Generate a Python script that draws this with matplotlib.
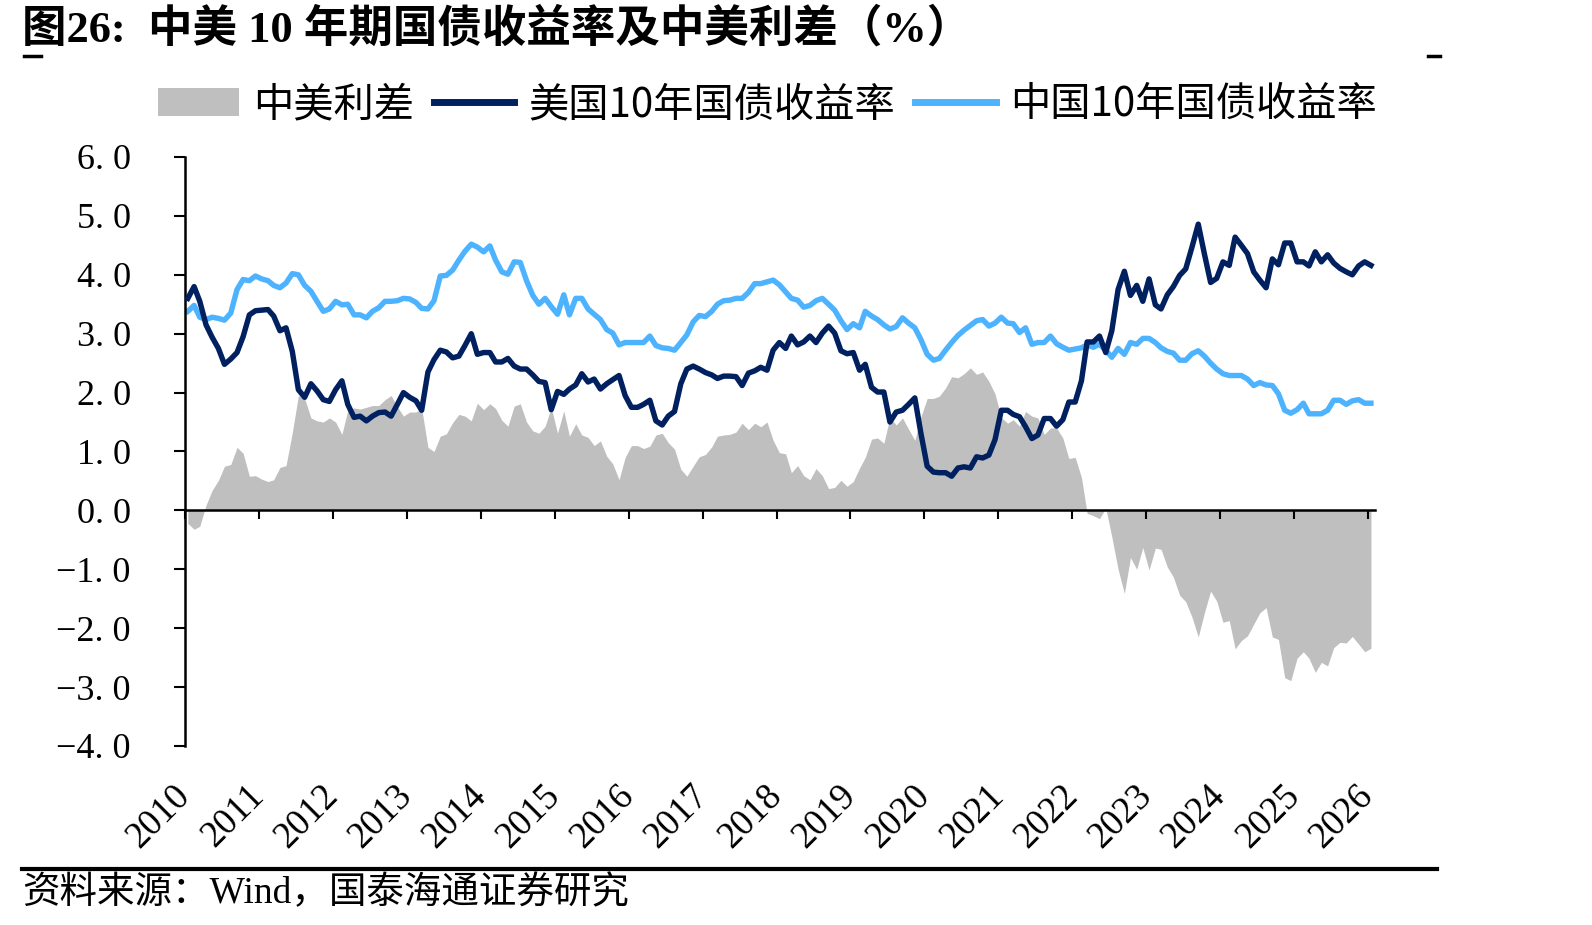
import numpy as np
import pandas as pd
import matplotlib
matplotlib.use("Agg")
import matplotlib.pyplot as plt
from matplotlib.lines import Line2D
from matplotlib.patches import Patch

plt.rcParams['font.family'] = ['Liberation Serif', 'Noto Sans CJK SC']
plt.rcParams['axes.unicode_minus'] = True

# 月度数据 2010-01 ~ 2026-01
us_10y = [
    3.60, 3.80, 3.55, 3.15, 2.94, 2.75, 2.48, 2.57, 2.68, 2.95, 3.32, 3.39,  # 2010
    3.40, 3.41, 3.30, 3.05, 3.10, 2.70, 2.05, 1.92, 2.15, 2.03, 1.88, 1.85,  # 2011
    2.05, 2.20, 1.80, 1.58, 1.60, 1.52, 1.60, 1.66, 1.67, 1.60, 1.80, 2.00,  # 2012
    1.92, 1.86, 1.70, 2.35, 2.56, 2.72, 2.69, 2.59, 2.62, 2.80, 3.00, 2.65,  # 2013
    2.68, 2.68, 2.52, 2.52, 2.58, 2.45, 2.40, 2.40, 2.30, 2.19, 2.17, 1.71,  # 2014
    2.02, 1.97, 2.06, 2.13, 2.32, 2.18, 2.23, 2.06, 2.15, 2.22, 2.29, 1.95,  # 2015
    1.75, 1.75, 1.80, 1.87, 1.52, 1.45, 1.60, 1.68, 2.15, 2.40, 2.45, 2.40,  # 2016
    2.34, 2.30, 2.24, 2.28, 2.28, 2.27, 2.12, 2.33, 2.37, 2.43, 2.38, 2.72,  # 2017
    2.85, 2.75, 2.96, 2.81, 2.86, 2.96, 2.85, 3.01, 3.13, 3.01, 2.71, 2.66,  # 2018
    2.68, 2.38, 2.48, 2.09, 2.01, 2.01, 1.50, 1.67, 1.70, 1.80, 1.91, 1.31,  # 2019
    0.75, 0.65, 0.64, 0.64, 0.58, 0.72, 0.74, 0.72, 0.91, 0.89, 0.94, 1.20,  # 2020
    1.70, 1.70, 1.63, 1.59, 1.42, 1.22, 1.28, 1.56, 1.56, 1.43, 1.54, 1.84,  # 2021
    1.84, 2.20, 2.86, 2.86, 2.96, 2.68, 3.05, 3.75, 4.06, 3.65, 3.82, 3.55,  # 2022
    3.93, 3.49, 3.42, 3.66, 3.80, 3.99, 4.10, 4.47, 4.86, 4.36, 3.87, 3.94,  # 2023
    4.22, 4.16, 4.64, 4.50, 4.36, 4.05, 3.91, 3.78, 4.27, 4.17, 4.54, 4.54,  # 2024
    4.22, 4.22, 4.15, 4.39, 4.22, 4.34, 4.20, 4.11, 4.05, 4.00, 4.15, 4.22,  # 2025
    4.16,                                                                    # 2026
]

cn_10y = [
    3.38, 3.48, 3.28, 3.24, 3.28, 3.26, 3.23, 3.35, 3.75, 3.92, 3.90, 3.98,  # 2010
    3.93, 3.90, 3.82, 3.78, 3.86, 4.02, 4.00, 3.82, 3.72, 3.55, 3.38, 3.42,  # 2011
    3.55, 3.49, 3.50, 3.32, 3.32, 3.27, 3.38, 3.44, 3.55, 3.55, 3.56, 3.60,  # 2012
    3.59, 3.53, 3.43, 3.42, 3.56, 3.98, 3.99, 4.08, 4.25, 4.40, 4.52, 4.47,  # 2013
    4.39, 4.49, 4.25, 4.05, 4.01, 4.22, 4.21, 3.90, 3.65, 3.50, 3.60, 3.46,  # 2014
    3.33, 3.66, 3.32, 3.60, 3.60, 3.42, 3.33, 3.24, 3.07, 3.01, 2.81, 2.85,  # 2015
    2.85, 2.85, 2.85, 2.96, 2.80, 2.76, 2.75, 2.72, 2.85, 2.98, 3.20, 3.31,  # 2016
    3.29, 3.38, 3.50, 3.56, 3.57, 3.60, 3.60, 3.70, 3.85, 3.85, 3.88, 3.91,  # 2017
    3.83, 3.71, 3.60, 3.57, 3.45, 3.48, 3.56, 3.60, 3.50, 3.40, 3.22, 3.07,  # 2018
    3.17, 3.10, 3.38, 3.30, 3.24, 3.15, 3.08, 3.12, 3.27, 3.18, 3.10, 2.90,  # 2019
    2.65, 2.55, 2.58, 2.72, 2.85, 2.97, 3.06, 3.14, 3.22, 3.24, 3.13, 3.18,  # 2020
    3.28, 3.18, 3.17, 3.02, 3.10, 2.82, 2.85, 2.85, 2.96, 2.83, 2.77, 2.72,  # 2021
    2.74, 2.76, 2.81, 2.77, 2.82, 2.72, 2.60, 2.75, 2.65, 2.85, 2.82, 2.92,  # 2022
    2.92, 2.85, 2.76, 2.70, 2.67, 2.55, 2.55, 2.66, 2.71, 2.62, 2.50, 2.40,  # 2023
    2.32, 2.29, 2.29, 2.29, 2.23, 2.12, 2.17, 2.13, 2.12, 1.98, 1.70, 1.65,  # 2024
    1.71, 1.82, 1.64, 1.64, 1.64, 1.70, 1.87, 1.87, 1.80, 1.86, 1.88, 1.82,  # 2025
    1.82,                                                                    # 2026
]

years = list(range(2010, 2027))
y_ticks = [-4, -3, -2, -1, 0, 1, 2, 3, 4, 5, 6]
y_ticklabels = ["−4. 0", "−3. 0", "−2. 0", "−1. 0", "0. 0", "1. 0", "2. 0",
                "3. 0", "4. 0", "5. 0", "6. 0"]

dates = pd.date_range("2010-01-01", periods=len(us_10y), freq="MS") + pd.Timedelta(days=14)
us = np.array(us_10y)
cn = np.array(cn_10y)
spread = cn - us  # 中美利差 = 中国 - 美国

navy = "#002060"
sky = "#4DB3FF"
grey = "#BFBFBF"

fig = plt.figure(figsize=(15.92, 9.25), dpi=100)
ax = fig.add_axes([185/1592, 1 - 746/925, 1190/1592, 589/925])

ax.fill_between(dates, spread, 0, color=grey, linewidth=0, zorder=1)
ax.plot(dates, us, color=navy, lw=3.9, zorder=3)
ax.plot(dates, cn, color=sky, lw=3.9, zorder=2)

ax.set_ylim(-4, 6)
ax.set_xlim(pd.Timestamp("2010-01-01"), pd.Timestamp("2026-02-04"))

ax.spines['top'].set_visible(False)
ax.spines['right'].set_visible(False)
ax.spines['left'].set_linewidth(1.8)
ax.spines['bottom'].set_position(('data', 0))
ax.spines['bottom'].set_linewidth(1.8)
ax.spines['bottom'].set_zorder(4)

ax.set_yticks(y_ticks)
ax.set_yticklabels(y_ticklabels, fontsize=26)
ax.tick_params(axis='y', direction='out', length=8, width=1.5, pad=31)

xt = [pd.Timestamp(f"{y}-01-01") for y in years]
ax.set_xticks(xt)
ax.tick_params(axis='x', direction='out', length=6.5, width=1.5, labelbottom=False)

# 年份标签放在底部
sec = ax.secondary_xaxis(0.0)
sec.set_xticks(xt)
sec.set_xticklabels([str(y) for y in years], fontsize=26.5, rotation=45,
                    ha='right', va='center', rotation_mode='anchor')
sec.tick_params(axis='x', length=0, pad=32)
sec.spines['bottom'].set_visible(False)

handles = [Patch(facecolor=grey, edgecolor='none'),
           Line2D([], [], color=navy, lw=5),
           Line2D([], [], color=sky, lw=5)]
labels = ["中美利差", "美国10年国债收益率", "中国10年国债收益率"]
fig.legend(handles, labels, loc='center', bbox_to_anchor=(0.482, 0.887), ncol=3,
           frameon=False, handlelength=2.0, handletextpad=0.35,
           columnspacing=0.5, prop={'family': ['Noto Sans CJK SC'], 'size': 29})

fig.text(22/1592, 1 - 29/925, "图26:  中美 10 年期国债收益率及中美利差（%）",
         fontsize=32, fontweight='bold', ha='left', va='center')
fig.text(22/1592, 1 - 893/925, "资料来源：Wind，国泰海通证券研究",
         fontsize=27, ha='left', va='center')

fig.add_artist(Line2D([22/1592, 1437/1592], [1 - 869/925] * 2, lw=3, color='black'))
fig.add_artist(Line2D([24/1592, 41/1592], [1 - 56/925] * 2, lw=2.5, color='black'))
fig.add_artist(Line2D([1428/1592, 1440/1592], [1 - 56/925] * 2, lw=2.5, color='black'))

fig.savefig("out.png", dpi=100)
